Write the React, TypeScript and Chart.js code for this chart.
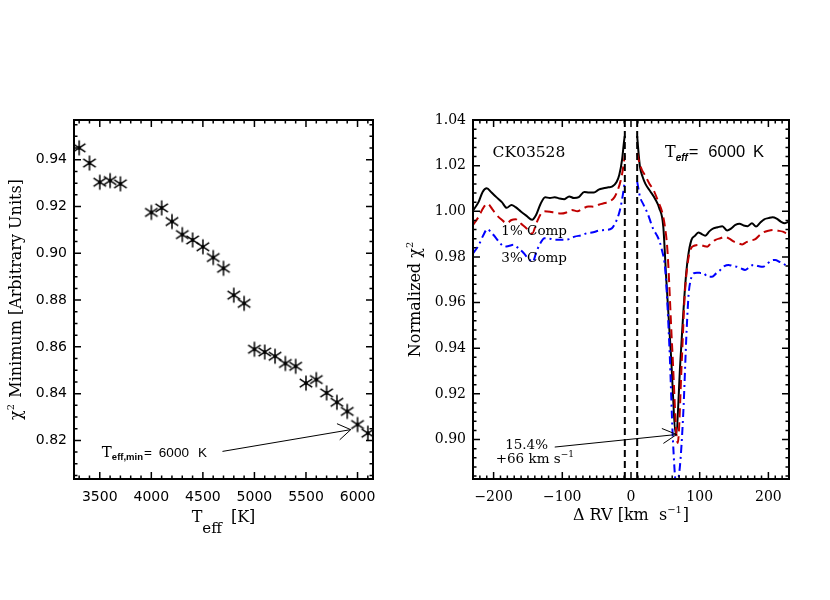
import React, { useEffect, useRef } from "react";
import { Chart, registerables } from "chart.js";
Chart.register(...registerables);

// ---------------- Left panel data ----------------
const teffGrid = [3300, 3400, 3500, 3600, 3700, 4000, 4100, 4200, 4300, 4400, 4500, 4600, 4700, 4800, 4900, 5000, 5100, 5200, 5300, 5400, 5500, 5600, 5700, 5800, 5900, 6000, 6100];
const chi2Minimum = [0.9451, 0.9386, 0.9304, 0.9311, 0.9297, 0.9175, 0.9194, 0.9136, 0.908, 0.9057, 0.9028, 0.8982, 0.8936, 0.8821, 0.8786, 0.859, 0.8578, 0.856, 0.8529, 0.8517, 0.8445, 0.846, 0.8403, 0.8363, 0.8324, 0.8268, 0.8231];
const leftXTicks = [3500, 4000, 4500, 5000, 5500, 6000];
const leftYTicks = [0.82, 0.84, 0.86, 0.88, 0.9, 0.92, 0.94];
const leftXRange = [3250, 6150];
const leftYRange = [0.8035, 0.957];

// ---------------- Right panel data ----------------
const rvBlack = [-230, -222, -216, -210, -203, -196, -188, -181, -174, -168, -160, -152, -144, -138, -132, -125, -118, -111, -104, -97, -90, -83, -76, -68, -61, -54, -47, -40, -33, -27, -21, -17, -13, -10, -9, 0, 9, 10, 13, 17, 21, 28, 35, 41, 47, 51, 58, 65.5, 72, 79, 83, 88, 93, 98, 103, 108, 114, 120, 126, 133, 140, 146, 152, 158, 164, 170, 176, 182, 188, 194, 200, 206, 212, 218, 224, 230];
const chiBlack = [1.0003, 1.004, 1.0085, 1.0101, 1.0082, 1.0062, 1.004, 1.0015, 1.0028, 1.0018, 0.9998, 0.998, 0.9963, 0.9985, 1.003, 1.0062, 1.0058, 1.0062, 1.0056, 1.0053, 1.0065, 1.0058, 1.0062, 1.0085, 1.0082, 1.0082, 1.0095, 1.0101, 1.0105, 1.0109, 1.0128, 1.016, 1.0226, 1.031, 1.033, null, 1.033, 1.029, 1.0196, 1.015, 1.012, 1.0088, 1.0055, 1.0015, 0.9933, 0.972, 0.938, 0.9023, 0.935, 0.968, 0.98, 0.9875, 0.9892, 0.9907, 0.99, 0.9893, 0.9912, 0.9925, 0.993, 0.9935, 0.9916, 0.9925, 0.994, 0.9945, 0.9938, 0.9935, 0.9948, 0.9933, 0.995, 0.9965, 0.997, 0.9974, 0.9968, 0.9955, 0.9948, 0.9955];

const rvRed = [-230, -222, -215, -209, -202, -196, -189, -181, -174, -168, -160, -152, -144, -138, -132, -126, -118, -110, -102, -94, -86, -78, -70, -62, -54, -46, -38, -30, -24, -19, -15, -12, -9, 0, 9, 12, 16, 20, 27, 33, 40, 45, 49, 53, 60, 68, 74, 78, 82, 87, 93, 100, 106, 111, 117, 123, 130, 137, 143, 150, 156, 162, 168, 175, 181, 187, 193, 200, 207, 214, 221, 227, 230];
const chiRed = [0.994, 0.9975, 1.0015, 1.0033, 1.001, 0.9985, 0.9965, 0.9948, 0.9962, 0.9965, 0.9945, 0.9925, 0.9902, 0.9945, 0.9985, 1.0, 0.9998, 0.9993, 0.999, 0.9995, 1.0006, 1.0, 1.0012, 1.0021, 1.002, 1.003, 1.0036, 1.0045, 1.0062, 1.0095, 1.0135, 1.018, 1.0245, null, 1.0255, 1.0215, 1.018, 1.016, 1.012, 1.0092, 1.004, 1.0, 0.994, 0.983, 0.94, 0.8985, 0.935, 0.962, 0.976, 0.9835, 0.985, 0.9853, 0.9848, 0.9845, 0.9862, 0.9875, 0.9882, 0.9888, 0.988, 0.9867, 0.986, 0.9855, 0.9865, 0.9872, 0.9878, 0.9895, 0.9908, 0.9915, 0.9918, 0.9915, 0.9911, 0.9904, 0.9908];

const rvBlue = [-230, -222, -215, -209, -203, -197, -191, -184, -178, -171, -164, -156, -150, -143, -138, -132, -126, -118, -110, -100, -90, -82, -72, -64, -55, -47, -38, -28, -23, -18, -15, -12, -9, 0, 9, 13, 18, 24, 32, 40, 45, 50, 56, 61, 66, 71, 76, 81, 84, 87, 91, 96, 101, 106, 112, 118, 124, 130, 136, 142, 148, 154, 160, 166, 172, 178, 185, 192, 199, 205, 210, 216, 222, 227, 230];
const chiBlue = [0.9816, 0.985, 0.9895, 0.9922, 0.9905, 0.9885, 0.9862, 0.9845, 0.9848, 0.9853, 0.9838, 0.9816, 0.9795, 0.9779, 0.982, 0.986, 0.9882, 0.988, 0.9875, 0.9875, 0.9878, 0.9889, 0.9895, 0.9904, 0.9908, 0.9915, 0.9918, 0.9925, 0.9948, 0.9985, 1.002, 1.007, 1.013, null, 1.013, 1.0065, 1.003, 0.9992, 0.9925, 0.988, 0.983, 0.974, 0.94, 0.9, 0.88, 0.8876, 0.911, 0.948, 0.964, 0.97, 0.9728, 0.9731, 0.973, 0.9728, 0.9713, 0.9713, 0.9728, 0.9743, 0.976, 0.9765, 0.976, 0.9757, 0.975, 0.9743, 0.9755, 0.9765, 0.976, 0.9757, 0.9772, 0.9785, 0.9787, 0.9779, 0.977, 0.976, 0.9754];

const centerLinesRV = [-9, 9];
const rightXTicks = [-200, -100, 0, 100, 200];
const rightYTicks = [0.9, 0.92, 0.94, 0.96, 0.98, 1.0, 1.02, 1.04];
const rightXRange = [-230, 230];
const rightYRange = [0.8827, 1.04];

// annotation anchors (data coordinates)
const leftLabelAt = { x: 3520, y: 0.813 };
const leftArrowTail = { x: 4690, y: 0.8153 };
const leftArrowTip = { x: 5934, y: 0.8246 };
const rightArrowTail = { x: -111, y: 0.8967 };
const rightArrowTip = { x: 66.5, y: 0.9022 };

const SERIF = '"DejaVu Serif", serif';
const SANS = '"Liberation Sans", Arial, sans-serif';
const DSANS = '"DejaVu Sans", sans-serif';

type Seg = { t: string; f: string; dy?: number; gap?: number };

function drawSegs(ctx: CanvasRenderingContext2D, segs: Seg[], x: number, y: number, align: "left" | "center") {
  let w = 0;
  for (const s of segs) {
    ctx.font = s.f;
    w += (s.gap || 0) + ctx.measureText(s.t).width;
  }
  let cx = align === "center" ? x - w / 2 : x;
  ctx.textAlign = "left";
  ctx.textBaseline = "alphabetic";
  for (const s of segs) {
    cx += s.gap || 0;
    ctx.font = s.f;
    ctx.fillText(s.t, cx, y + (s.dy || 0));
    cx += ctx.measureText(s.t).width;
  }
}

function drawArrow(ctx: CanvasRenderingContext2D, x0: number, y0: number, x1: number, y1: number, len: number, ang: number) {
  ctx.beginPath();
  ctx.moveTo(x0, y0);
  ctx.lineTo(x1, y1);
  const a = Math.atan2(y1 - y0, x1 - x0);
  ctx.moveTo(x1 - len * Math.cos(a - ang), y1 - len * Math.sin(a - ang));
  ctx.lineTo(x1, y1);
  ctx.lineTo(x1 - len * Math.cos(a + ang), y1 - len * Math.sin(a + ang));
  ctx.stroke();
}

function framePlugin(cfg: { xMinor: number; xMajor: number; yMinor: number; yMajor: number }) {
  return {
    id: "frameTicks",
    afterDatasetsDraw(chart: any) {
      const { ctx, chartArea } = chart;
      const { left, right, top, bottom } = chartArea;
      const xs = chart.scales.x;
      const ys = chart.scales.y;
      ctx.save();
      ctx.strokeStyle = "#000";
      ctx.lineWidth = 1.5;
      ctx.setLineDash([]);
      ctx.beginPath();
      for (let i = Math.ceil(xs.min / cfg.xMinor - 1e-9); i * cfg.xMinor <= xs.max + 1e-9; i++) {
        const v = i * cfg.xMinor;
        const r = v / cfg.xMajor;
        const major = Math.abs(r - Math.round(r)) < 1e-6;
        const len = major ? 7 : 3.5;
        const px = xs.getPixelForValue(v);
        ctx.moveTo(px, bottom);
        ctx.lineTo(px, bottom - len);
        ctx.moveTo(px, top);
        ctx.lineTo(px, top + len);
      }
      for (let i = Math.ceil(ys.min / cfg.yMinor - 1e-9); i * cfg.yMinor <= ys.max + 1e-9; i++) {
        const v = i * cfg.yMinor;
        const r = v / cfg.yMajor;
        const major = Math.abs(r - Math.round(r)) < 1e-6;
        const len = major ? 7 : 3.5;
        const py = ys.getPixelForValue(v);
        ctx.moveTo(left, py);
        ctx.lineTo(left + len, py);
        ctx.moveTo(right, py);
        ctx.lineTo(right - len, py);
      }
      ctx.stroke();
      ctx.lineWidth = 2;
      ctx.strokeRect(left, top, right - left, bottom - top);
      ctx.restore();
    },
  };
}

function makeAsterisk(): HTMLCanvasElement {
  const c = document.createElement("canvas");
  c.width = 18;
  c.height = 18;
  const g = c.getContext("2d")!;
  g.strokeStyle = "#000";
  g.lineWidth = 1.5;
  const cx = 9, cy = 9, L = 7.5;
  g.beginPath();
  g.moveTo(cx, cy - L);
  g.lineTo(cx, cy + L);
  const a = (33 * Math.PI) / 180;
  g.moveTo(cx - L * Math.cos(a), cy - L * Math.sin(a));
  g.lineTo(cx + L * Math.cos(a), cy + L * Math.sin(a));
  g.moveTo(cx - L * Math.cos(a), cy + L * Math.sin(a));
  g.lineTo(cx + L * Math.cos(a), cy - L * Math.sin(a));
  g.stroke();
  g.fillStyle = "#000";
  g.beginPath();
  g.arc(cx, cy, 1.8, 0, Math.PI * 2);
  g.fill();
  return c;
}

const fmtMinus = (v: number) => (v < 0 ? "\u2212" + Math.abs(v) : String(v));

export default function App() {
  const leftRef = useRef<HTMLCanvasElement>(null);
  const rightRef = useRef<HTMLCanvasElement>(null);

  useEffect(() => {
    const star = makeAsterisk();

    const leftAnno = {
      id: "leftAnno",
      afterDraw(chart: any) {
        const { ctx, chartArea } = chart;
        const xs = chart.scales.x, ys = chart.scales.y;
        ctx.save();
        ctx.fillStyle = "#000";
        ctx.strokeStyle = "#000";
        ctx.lineWidth = 1;
        drawSegs(ctx, [
          { t: "T", f: `15px ${SERIF}` },
          { t: "eff,min", f: `bold 9.5px ${SANS}`, dy: 3 },
          { t: "=", f: `13.5px ${SANS}`, gap: 1 },
          { t: "6000", f: `13.5px ${SANS}`, gap: 7 },
          { t: "K", f: `13.5px ${SANS}`, gap: 9 },
        ], xs.getPixelForValue(leftLabelAt.x), ys.getPixelForValue(leftLabelAt.y), "left");
        drawArrow(ctx, xs.getPixelForValue(leftArrowTail.x), ys.getPixelForValue(leftArrowTail.y),
          xs.getPixelForValue(leftArrowTip.x), ys.getPixelForValue(leftArrowTip.y), 15, (33 * Math.PI) / 180);
        const cxm = (chartArea.left + chartArea.right) / 2;
        drawSegs(ctx, [
          { t: "T", f: `16px ${SERIF}` },
          { t: "eff", f: `15px ${SERIF}`, dy: 11 },
          { t: "[K]", f: `16px ${SERIF}`, gap: 9 },
        ], cxm, 521.5, "center");
        ctx.translate(21, (chartArea.top + chartArea.bottom) / 2);
        ctx.rotate(-Math.PI / 2);
        drawSegs(ctx, [
          { t: "\u03c7", f: `16px ${SERIF}` },
          { t: "2", f: `10px ${SERIF}`, dy: -7 },
          { t: " Minimum [Arbitrary Units]", f: `16px ${SERIF}`, gap: 1 },
        ], 0, 0, "center");
        ctx.restore();
      },
    };

    const rightAnno = {
      id: "rightAnno",
      afterDraw(chart: any) {
        const { ctx, chartArea } = chart;
        const xs = chart.scales.x, ys = chart.scales.y;
        const X = (v: number) => xs.getPixelForValue(v);
        const Y = (v: number) => ys.getPixelForValue(v);
        ctx.save();
        ctx.fillStyle = "#000";
        ctx.strokeStyle = "#000";
        ctx.lineWidth = 1;
        drawSegs(ctx, [{ t: "CK03528", f: `15.5px ${SERIF}` }], X(-201.5), Y(1.0239), "left");
        drawSegs(ctx, [
          { t: "T", f: `16px ${SERIF}` },
          { t: "eff", f: `italic bold 10px ${SANS}`, dy: 4 },
          { t: "=", f: `16.5px ${SANS}`, gap: 1 },
          { t: "6000", f: `16.5px ${SANS}`, gap: 10 },
          { t: "K", f: `16.5px ${SANS}`, gap: 8 },
        ], X(49.5), Y(1.0239), "left");
        drawSegs(ctx, [{ t: "1% Comp", f: `13.5px ${SERIF}` }], X(-188.7), Y(0.9896), "left");
        drawSegs(ctx, [{ t: "3% Comp", f: `13.5px ${SERIF}` }], X(-188.7), Y(0.9776), "left");
        drawSegs(ctx, [{ t: "15.4%", f: `13.5px ${SERIF}` }], X(-152), Y(0.8959), "center");
        drawSegs(ctx, [
          { t: "+66 km s", f: `13.5px ${SERIF}` },
          { t: "\u22121", f: `9px ${SERIF}`, dy: -6 },
        ], X(-140), Y(0.8898), "center");
        drawArrow(ctx, X(rightArrowTail.x), Y(rightArrowTail.y), X(rightArrowTip.x), Y(rightArrowTip.y), 16, (28 * Math.PI) / 180);
        const cxm = (chartArea.left + chartArea.right) / 2;
        drawSegs(ctx, [
          { t: "\u0394 RV [km  s", f: `16px ${SERIF}` },
          { t: "\u22121", f: `10px ${SERIF}`, dy: -7 },
          { t: "]", f: `16px ${SERIF}`, gap: 1 },
        ], cxm, 520, "center");
        ctx.translate(30, (chartArea.top + chartArea.bottom) / 2);
        ctx.rotate(-Math.PI / 2);
        drawSegs(ctx, [
          { t: "Normalized \u03c7", f: `16px ${SERIF}` },
          { t: "2", f: `10px ${SERIF}`, dy: -7 },
        ], 0, 0, "center");
        ctx.restore();
      },
    };

    const baseTicks = (family: string) => ({ color: "#000", font: { family, size: 14 } });

    const left = new Chart(leftRef.current!, {
      type: "line",
      data: {
        datasets: [
          {
            data: teffGrid.map((x, i) => ({ x, y: chi2Minimum[i] })),
            showLine: false,
            pointStyle: star as any,
            pointRadius: 8,
            borderColor: "#000",
            backgroundColor: "#000",
          },
        ],
      },
      options: {
        animation: false,
        responsive: false,
        events: [],
        layout: { padding: { top: 120, right: 17, left: 0, bottom: 0 } },
        plugins: { legend: { display: false }, tooltip: { enabled: false } },
        scales: {
          x: {
            type: "linear",
            min: leftXRange[0],
            max: leftXRange[1],
            grid: { display: false, drawTicks: false },
            border: { display: false },
            ticks: { ...baseTicks(DSANS), padding: 10, maxRotation: 0, callback: (v: any) => String(v) },
            afterBuildTicks: (s: any) => { s.ticks = leftXTicks.map((v) => ({ value: v })); },
            afterFit: (s: any) => { s.height = 121; },
          },
          y: {
            type: "linear",
            min: leftYRange[0],
            max: leftYRange[1],
            grid: { display: false, drawTicks: false },
            border: { display: false },
            ticks: { ...baseTicks(DSANS), padding: 7, callback: (v: any) => Number(v).toFixed(2) },
            afterBuildTicks: (s: any) => { s.ticks = leftYTicks.map((v) => ({ value: v })); },
            afterFit: (s: any) => { s.width = 74; },
          },
        },
      } as any,
      plugins: [framePlugin({ xMinor: 100, xMajor: 500, yMinor: 0.005, yMajor: 0.02 }), leftAnno],
    });

    const series = (xs: number[], ys: (number | null)[]) => xs.map((x, i) => ({ x, y: ys[i] }));
    const vlineData = (x: number) => [{ x, y: rightYRange[0] }, { x, y: rightYRange[1] }];

    const right = new Chart(rightRef.current!, {
      type: "line",
      data: {
        datasets: [
          ...centerLinesRV.map((x) => ({
            data: vlineData(x),
            borderColor: "#000",
            borderWidth: 2,
            borderDash: [7, 4],
            pointRadius: 0,
            tension: 0,
          })),
          {
            data: series(rvBlue, chiBlue),
            borderColor: "#0000ff",
            borderWidth: 2,
            borderDash: [8, 4, 2, 4],
            pointRadius: 0,
            cubicInterpolationMode: "monotone",
          },
          {
            data: series(rvRed, chiRed),
            borderColor: "#c00000",
            borderWidth: 2,
            borderDash: [9, 5],
            pointRadius: 0,
            cubicInterpolationMode: "monotone",
          },
          {
            data: series(rvBlack, chiBlack),
            borderColor: "#000",
            borderWidth: 2,
            pointRadius: 0,
            cubicInterpolationMode: "monotone",
          },
        ],
      },
      options: {
        animation: false,
        responsive: false,
        events: [],
        spanGaps: false,
        layout: { padding: { top: 120, right: 41, left: 0, bottom: 0 } },
        plugins: { legend: { display: false }, tooltip: { enabled: false } },
        scales: {
          x: {
            type: "linear",
            min: rightXRange[0],
            max: rightXRange[1],
            grid: { display: false, drawTicks: false },
            border: { display: false },
            ticks: { ...baseTicks(SERIF), padding: 10, maxRotation: 0, callback: (v: any) => fmtMinus(Number(v)) },
            afterBuildTicks: (s: any) => { s.ticks = rightXTicks.map((v) => ({ value: v })); },
            afterFit: (s: any) => { s.height = 121; },
          },
          y: {
            type: "linear",
            min: rightYRange[0],
            max: rightYRange[1],
            grid: { display: false, drawTicks: false },
            border: { display: false },
            ticks: { ...baseTicks(SERIF), padding: 7, callback: (v: any) => Number(v).toFixed(2) },
            afterBuildTicks: (s: any) => { s.ticks = rightYTicks.map((v) => ({ value: v })); },
            afterFit: (s: any) => { s.width = 83; },
          },
        },
      } as any,
      plugins: [framePlugin({ xMinor: 10, xMajor: 100, yMinor: 0.004, yMajor: 0.02 }), rightAnno],
    });

    return () => {
      left.destroy();
      right.destroy();
    };
  }, []);

  return (
    <div style={{ position: "absolute", left: 0, top: 0, width: 830, height: 600, background: "#fff" }}>
      <canvas ref={leftRef} width={390} height={600} style={{ position: "absolute", left: 0, top: 0, width: 390, height: 600 }} />
      <canvas ref={rightRef} width={440} height={600} style={{ position: "absolute", left: 390, top: 0, width: 440, height: 600 }} />
    </div>
  );
}
